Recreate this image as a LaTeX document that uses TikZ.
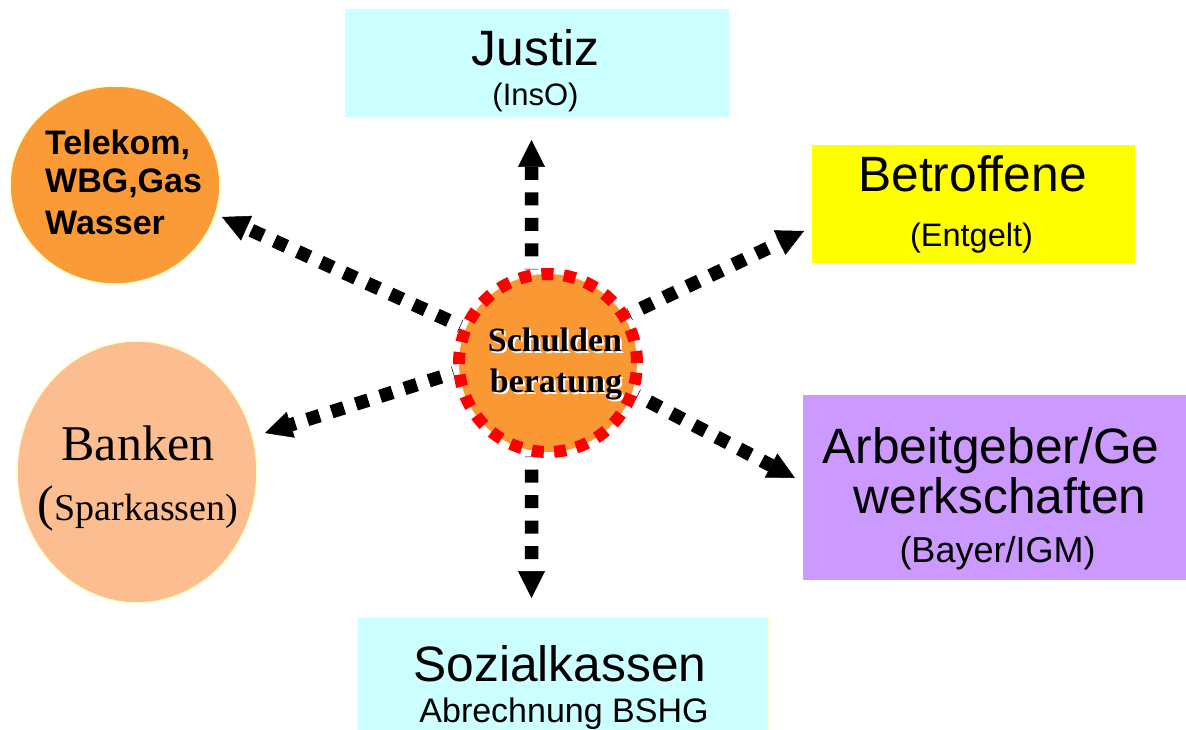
\documentclass[tikz,border=0pt]{standalone}
\usepackage{fontspec}
\setmainfont{Liberation Serif}
\setsansfont{Liberation Sans}
\usetikzlibrary{arrows.meta,shapes.geometric}
\pgfdeclarelayer{bg}
\pgfsetlayers{bg,main}
\definecolor{cyanbox}{RGB}{204,255,255}
\definecolor{yellowbox}{RGB}{255,255,0}
\definecolor{purplebox}{RGB}{204,153,255}
\definecolor{orangeC}{RGB}{250,153,52}
\definecolor{orangeT}{RGB}{250,155,56}
\definecolor{peach}{RGB}{252,190,145}
\definecolor{paleY}{RGB}{255,255,204}
\begin{document}
\begin{tikzpicture}[x=1pt,y=-1pt,
  box/.style={rectangle, inner sep=0pt, outer sep=0pt},
  oval/.style={ellipse, inner sep=0pt, draw=paleY, line width=1.5pt},
  bigtxt/.style={font=\sffamily\fontsize{49.7}{50}\selectfont, anchor=base, inner sep=0pt},
  smalltxt/.style={font=\sffamily\fontsize{#1}{#1}\selectfont, anchor=base, inner sep=0pt},
  teltxt/.style={font=\sffamily\bfseries\fontsize{34}{34}\selectfont, anchor=base west, inner sep=0pt},
  schtxt/.style={font=\rmfamily\bfseries\fontsize{34}{34}\selectfont, anchor=base, inner sep=0pt},
  arr/.style={line width=13.5pt, dash pattern=on 13pt off 12.5pt, dash phase=12.5pt,
    -{Triangle[width=27pt,length=27pt,line width=0.5pt]}}
]
\useasboundingbox (0,0) rectangle (1186,730);

% boxes
\node[box, fill=cyanbox, minimum width=384pt, minimum height=108pt] (justiz) at (537,63) {};
\node[box, fill=yellowbox, minimum width=323pt, minimum height=118pt] (betr) at (973.5,204) {};
\node[box, fill=purplebox, minimum width=383pt, minimum height=185pt] (arb) at (994.5,487.5) {};
\node[box, fill=cyanbox, draw=paleY, line width=1pt, minimum width=411pt, minimum height=116pt] (sozial) at (562.5,675) {};

% ovals
\node[oval, fill=orangeT, minimum width=210pt, minimum height=198pt] (tel) at (115,185) {};
\node[oval, fill=peach, minimum width=240pt, minimum height=262pt] (bank) at (137,472) {};

% center
\node[circle, fill=orangeC, draw=red, line width=12pt, dash pattern=on 12pt off 10.4pt,
  minimum size=178pt, inner sep=0pt] (c) at (548,363) {};

% texts
\node[bigtxt] (justizA) at (535.5,66) {Justiz};
\node[smalltxt=31] (justizB) at (535.5,106) {(InsO)};
\node[bigtxt] (betrA) at (972.5,192) {Betroffene};
\node[smalltxt=32.5] (betrB) at (971.5,247) {(Entgelt)};
\node[bigtxt] (arbA) at (991,463) {Arbeitgeber/Ge};
\node[bigtxt] (arbB) at (1000,513) {werkschaften};
\node[smalltxt=36] (arbC) at (997.5,562) {(Bayer/IGM)};
\node[bigtxt] (sozA) at (560,681) {Sozialkassen};
\node[smalltxt=34] (sozB) at (564,722) {Abrechnung BSHG};
\node[teltxt] (telA) at (45,155) {Telekom,};
\node[teltxt] (telB) at (45,193) {WBG,Gas};
\node[teltxt] (telC) at (45,235) {Wasser};
\node[font=\rmfamily\fontsize{50}{50}\selectfont, anchor=base, inner sep=0pt] (bankA) at (138,460) {Banken};
\node[font=\rmfamily\fontsize{38}{38}\selectfont, anchor=base, inner sep=0pt] (bankB) at (138,520) {{\fontsize{50}{50}\selectfont(}Sparkassen)};
\node[schtxt, text=white] (schAs) at (557,353) {Schulden};
\node[schtxt, text=white] (schBs) at (558,394) {beratung};
\node[schtxt] (schA) at (555,351) {Schulden};
\node[schtxt] (schB) at (556,392) {beratung};

% arrow tips
\coordinate (tUp) at (531.5,140);
\coordinate (tDown) at (531.5,598);
\coordinate (tTel) at (222,217);
\coordinate (tBank) at (265,433);
\coordinate (tBetr) at (804,231);
\coordinate (tArb) at (795,478);

\begin{pgfonlayer}{bg}
\draw[arr] (c.100) -- (tUp);
\draw[arr] (c.260) -- (tDown);
\draw[arr] (c.157) -- (tTel);
\draw[arr] (c.186.5) -- (tBank);
\draw[arr] (c.31) -- (tBetr);
\draw[arr] (c.-20.5) -- (tArb);
\end{pgfonlayer}
\end{tikzpicture}
\end{document}
